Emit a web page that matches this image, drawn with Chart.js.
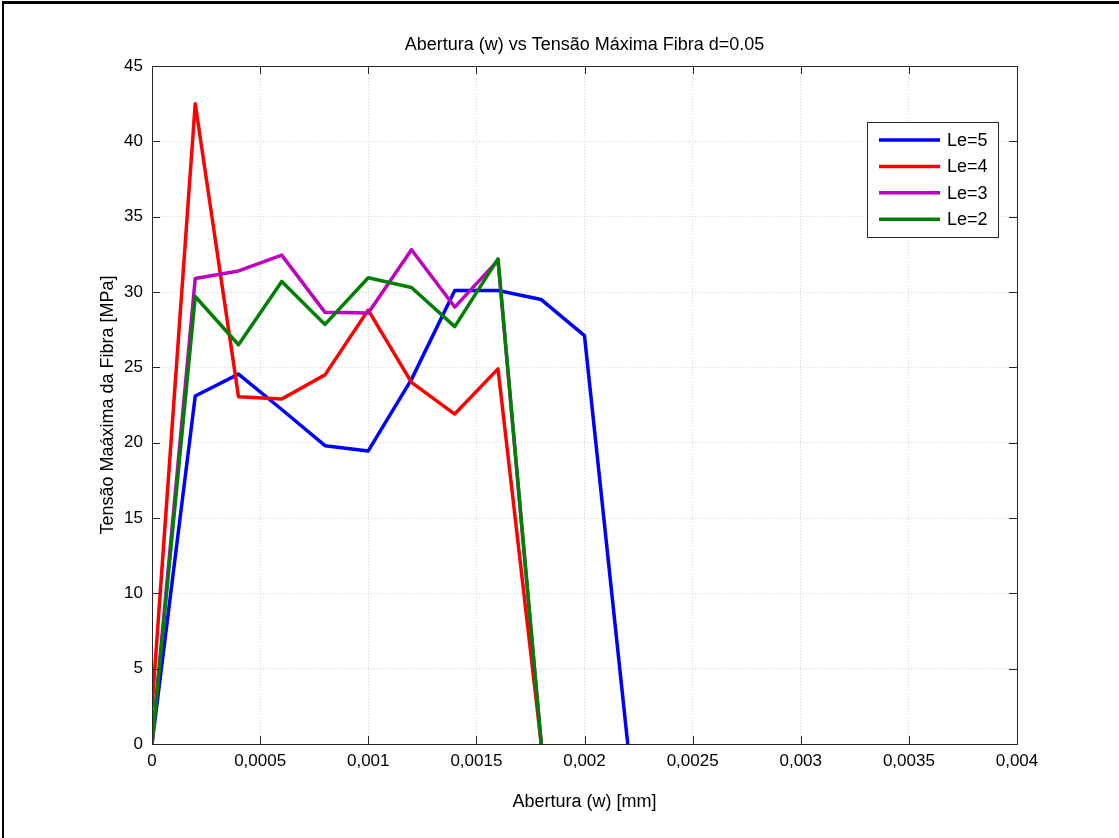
<!DOCTYPE html>
<html>
<head>
<meta charset="utf-8">
<script src="https://cdn.jsdelivr.net/npm/chart.js@4/dist/chart.umd.min.js"></script>
<style>
  html, body { margin: 0; padding: 0; background: #fff; }
  #wrap { position: relative; width: 1119px; height: 838px; overflow: hidden; }
  #frame { position: absolute; left: 2px; top: 1px; width: 1200px; height: 900px;
           border-top: 3px solid #000; border-left: 2px solid #000; pointer-events: none; }
  canvas { position: absolute; left: 0; top: 0; }
</style>
</head>
<body>
<div id="wrap">
  <canvas id="c" width="1119" height="838"></canvas>
  <div id="frame"></div>
</div>
<script>
// ---- data ----
const xValues = [0, 0.0002, 0.0004, 0.0006, 0.0008, 0.0010, 0.0012, 0.0014, 0.0016, 0.0018, 0.0020, 0.0022];
const le5 = [0, 23.1, 24.55, 22.2, 19.8, 19.45, 24.2, 30.1, 30.1, 29.5, 27.1, 0];
const le4 = [2.4, 42.5, 23.05, 22.9, 24.5, 28.8, 24.0, 21.9, 24.9, 0];
const le3 = [0, 30.9, 31.4, 32.45, 28.65, 28.6, 32.8, 29.0, 32.1, 0];
const le2 = [0, 29.7, 26.5, 30.7, 27.85, 30.95, 30.3, 27.7, 32.2, 0];
const seriesNames = ['Le=5', 'Le=4', 'Le=3', 'Le=2'];
const xTickLabels = ['0', '0,0005', '0,001', '0,0015', '0,002', '0,0025', '0,003', '0,0035', '0,004'];
const yTickLabels = ['0', '5', '10', '15', '20', '25', '30', '35', '40', '45'];
const chartTitle = 'Abertura (w) vs Tensão Máxima Fibra d=0.05';

const FONT = "'Liberation Sans', Arial, sans-serif";
const toPts = arr => arr.map((y, i) => ({ x: xValues[i], y: y }));

const colors = ['#0000ff', '#ff0000', '#bf00bf', '#008000'];
const seriesData = [le5, le4, le3, le2];

const datasets = seriesData.map((d, i) => ({
  label: seriesNames[i],
  data: toPts(d),
  borderColor: colors[i],
  backgroundColor: colors[i],
  borderWidth: 3.5,
  borderJoinStyle: 'round',
  pointRadius: 0,
  showLine: true,
  tension: 0,
  fill: false,
  order: 4 - i
}));

// title, box, inward ticks and legend
const matlabPlugin = {
  id: 'matlabBox',
  afterDatasetsDraw(chart) {
    const { ctx, chartArea: a, scales } = chart;
    const x = scales.x, y = scales.y;
    ctx.save();
    // title centred over the plot area
    ctx.fillStyle = '#000';
    ctx.font = '18px ' + FONT;
    ctx.textAlign = 'center';
    ctx.textBaseline = 'middle';
    ctx.fillText(chartTitle, (a.left + a.right) / 2, 45);

    ctx.strokeStyle = '#262626';
    ctx.lineWidth = 1;
    ctx.strokeRect(Math.round(a.left) + 0.5, Math.round(a.top) + 0.5,
                   Math.round(a.right - a.left), Math.round(a.bottom - a.top));
    const tl = 8;
    ctx.beginPath();
    x.ticks.forEach(t => {
      const px = Math.round(x.getPixelForValue(t.value)) + 0.5;
      ctx.moveTo(px, a.bottom); ctx.lineTo(px, a.bottom - tl);
      ctx.moveTo(px, a.top); ctx.lineTo(px, a.top + tl);
    });
    y.ticks.forEach(t => {
      const py = Math.round(y.getPixelForValue(t.value)) + 0.5;
      ctx.moveTo(a.left, py); ctx.lineTo(a.left + tl, py);
      ctx.moveTo(a.right, py); ctx.lineTo(a.right - tl, py);
    });
    ctx.stroke();

    // legend
    const bx = 867, by = 122, bw = 131, bh = 115;
    ctx.fillStyle = '#fff';
    ctx.fillRect(bx, by, bw, bh);
    ctx.strokeStyle = '#262626';
    ctx.strokeRect(bx + 0.5, by + 0.5, bw, bh);
    ctx.font = '18px ' + FONT;
    ctx.textBaseline = 'middle';
    ctx.textAlign = 'left';
    chart.data.datasets.forEach((ds, i) => {
      const ry = by + 18 + i * 26.4;
      ctx.strokeStyle = ds.borderColor;
      ctx.lineWidth = 3.5;
      ctx.beginPath();
      ctx.moveTo(bx + 12, ry); ctx.lineTo(bx + 73, ry);
      ctx.stroke();
      ctx.fillStyle = '#000';
      ctx.fillText(ds.label, bx + 80, ry + 1);
    });
    ctx.restore();
  }
};

new Chart(document.getElementById('c'), {
  type: 'scatter',
  data: { datasets },
  options: {
    responsive: false,
    animation: false,
    devicePixelRatio: 1,
    layout: { padding: { left: 0, right: 102, top: 66, bottom: 0 } },
    plugins: {
      legend: { display: false },
      tooltip: { enabled: false },
      title: { display: false }
    },
    scales: {
      x: {
        type: 'linear',
        min: 0, max: 0.004,
        afterFit(s) { s.height = 94; },
        afterBuildTicks(s) {
          s.ticks = xTickLabels.map((_, i) => ({ value: i * 0.0005 }));
        },
        ticks: {
          color: '#000',
          font: { family: FONT, size: 17 },
          padding: 7,
          maxRotation: 0,
          autoSkip: false,
          callback: (v, i) => xTickLabels[i]
        },
        grid: { color: '#d4d4d4', drawTicks: false },
        border: { display: false, dash: [1, 2] },
        title: {
          display: true,
          text: 'Abertura (w) [mm]',
          color: '#000',
          font: { family: FONT, size: 18 },
          padding: { top: 0, bottom: 25 }
        }
      },
      y: {
        type: 'linear',
        min: 0, max: 45,
        afterFit(s) { s.width = 152; },
        afterBuildTicks(s) {
          s.ticks = yTickLabels.map((_, i) => ({ value: i * 5 }));
        },
        ticks: {
          color: '#000',
          font: { family: FONT, size: 17 },
          padding: 9,
          autoSkip: false,
          callback: (v, i) => yTickLabels[i]
        },
        grid: { color: '#d4d4d4', drawTicks: false },
        border: { display: false, dash: [1, 2] },
        title: {
          display: true,
          text: 'Tensão Maáxima da Fibra [MPa]',
          color: '#000',
          font: { family: FONT, size: 18 },
          padding: { top: 97, bottom: 0 }
        }
      }
    }
  },
  plugins: [matlabPlugin]
});
</script>
</body>
</html>
